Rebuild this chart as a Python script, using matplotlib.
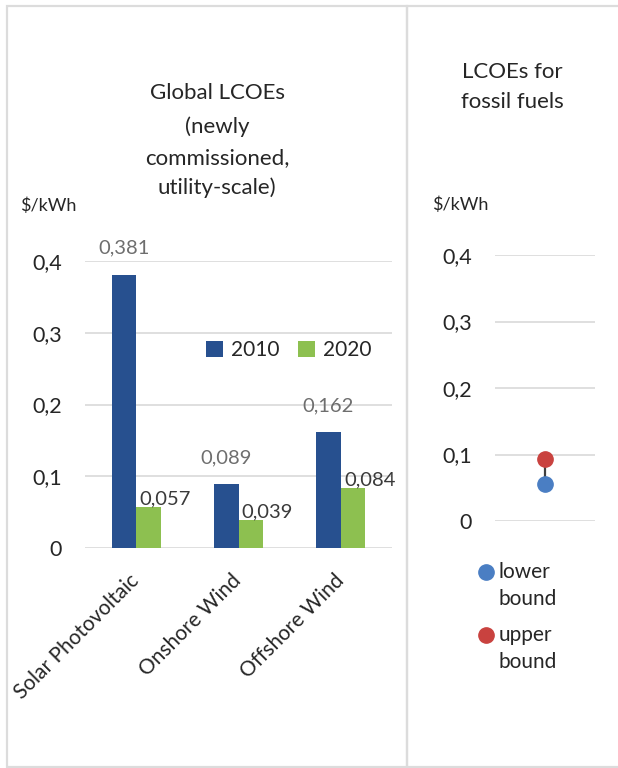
import matplotlib
matplotlib.use("Agg")
import matplotlib.pyplot as plt
from matplotlib.patches import Rectangle
from matplotlib.lines import Line2D
import numpy as np

plt.rcParams['font.family'] = ['Lato', 'DejaVu Sans']

categories = ["Solar Photovoltaic", "Onshore Wind", "Offshore Wind"]
lcoe_2010 = [0.381, 0.089, 0.162]
lcoe_2020 = [0.057, 0.039, 0.084]
series_names = ["2010", "2020"]
fossil_lower = 0.055
fossil_upper = 0.093
yticks = [0, 0.1, 0.2, 0.3, 0.4]
ytick_labels = ["0", "0,1", "0,2", "0,3", "0,4"]

def fmt(v):
    return f"{v:.3f}".replace(".", ",")

W, H = 618, 768
fig = plt.figure(figsize=(W/100, H/100), dpi=100)

TXT = "#262626"
GRID = "#d9d9d9"
C2010 = "#27508F"
C2020 = "#8DC050"
CLOW = "#4A7EC3"
CUP = "#C9423F"

def fx(px):
    return px / W

def fy(py):
    return 1 - py / H

# panel frames
fig.patches.append(Rectangle((fx(7), fy(767)), fx(407) - fx(7), fy(6) - fy(767),
                             transform=fig.transFigure, fill=False,
                             edgecolor="#dcdcdc", linewidth=1.6))
fig.patches.append(Rectangle((fx(407), fy(767)), fx(630) - fx(407), fy(6) - fy(767),
                             transform=fig.transFigure, fill=False,
                             edgecolor="#dcdcdc", linewidth=1.6))

# ---- left panel ----
ax = fig.add_axes([fx(85), fy(548), fx(392) - fx(85), fy(261) - fy(548)])
x = np.arange(len(categories))
w = 0.24
ax.bar(x - w/2, lcoe_2010, w, color=C2010, label=series_names[0], zorder=3)
ax.bar(x + w/2, lcoe_2020, w, color=C2020, label=series_names[1], zorder=3)
ax.set_xlim(-0.5, 2.5)
ax.set_ylim(0, 0.4)
ax.set_yticks(yticks)
ax.set_yticklabels(ytick_labels)
ax.yaxis.grid(True, color=GRID, linewidth=1.2, zorder=0)
ax.set_axisbelow(True)
for s in ax.spines.values():
    s.set_visible(False)
ax.tick_params(axis='y', length=0, pad=16.5, labelsize=15.5, labelcolor=TXT)
ax.set_xticks(x)
ax.set_xticklabels(categories, rotation=45, ha='right', va='center',
                   rotation_mode='anchor', fontsize=15, color=TXT)
ax.tick_params(axis='x', length=0, pad=21)
for xi, v in zip(x - w/2, lcoe_2010):
    ax.annotate(fmt(v), (xi, v), xytext=(0, 19), textcoords='offset points',
                ha='center', va='center', fontsize=14.5, color="#6e6e6e")
for xi, v in zip(x + w/2, lcoe_2020):
    ax.annotate(fmt(v), (xi, v), xytext=(12, 6), textcoords='offset points',
                ha='center', va='center', fontsize=14.5, color="#3a3a3a")

ax.legend(loc='center', bbox_to_anchor=((289 - 85) / 307, (548 - 350) / 287),
          ncol=2, frameon=False, fontsize=15, handlelength=0.8, handleheight=0.8,
          handletextpad=0.4, columnspacing=0.9, labelcolor=TXT)

fig.text(fx(217), fy(93), "Global LCOEs", ha='center', va='center', fontsize=16, color=TXT)
fig.text(fx(217), fy(127), "(newly", ha='center', va='center', fontsize=16, color=TXT)
fig.text(fx(217), fy(158), "commissioned,", ha='center', va='center', fontsize=16, color=TXT)
fig.text(fx(217), fy(188), "utility-scale)", ha='center', va='center', fontsize=16, color=TXT)
fig.text(fx(20), fy(206), "$/kWh", ha='left', va='center', fontsize=13, color=TXT)

# ---- right panel ----
ax2 = fig.add_axes([fx(495), fy(521), fx(595) - fx(495), fy(255) - fy(521)])
ax2.set_xlim(-0.5, 0.5)
ax2.set_ylim(0, 0.4)
ax2.set_yticks(yticks)
ax2.set_yticklabels(ytick_labels)
ax2.set_xticks([])
ax2.yaxis.grid(True, color=GRID, linewidth=1.2, zorder=0)
ax2.set_axisbelow(True)
for s in ax2.spines.values():
    s.set_visible(False)
ax2.tick_params(axis='y', length=0, pad=16.5, labelsize=15.5, labelcolor=TXT)
ax2.plot([0, 0], [fossil_lower, fossil_upper], color="#404040", linewidth=1.6, zorder=3)
ax2.plot([0], [fossil_lower], 'o', color=CLOW, markersize=11, zorder=4)
ax2.plot([0], [fossil_upper], 'o', color=CUP, markersize=11, zorder=4)

fig.text(fx(512), fy(72), "LCOEs for", ha='center', va='center', fontsize=16, color=TXT)
fig.text(fx(512), fy(102), "fossil fuels", ha='center', va='center', fontsize=16, color=TXT)
fig.text(fx(432), fy(205), "$/kWh", ha='left', va='center', fontsize=13, color=TXT)

# right legend
fig.add_artist(Line2D([fx(486)], [fy(572)], marker='o', color=CLOW, markersize=11,
                      linestyle='none', transform=fig.transFigure))
fig.add_artist(Line2D([fx(486)], [fy(635)], marker='o', color=CUP, markersize=11,
                      linestyle='none', transform=fig.transFigure))
fig.text(fx(499), fy(572), "lower", ha='left', va='center', fontsize=15, color=TXT)
fig.text(fx(499), fy(599), "bound", ha='left', va='center', fontsize=15, color=TXT)
fig.text(fx(499), fy(635), "upper", ha='left', va='center', fontsize=15, color=TXT)
fig.text(fx(499), fy(662), "bound", ha='left', va='center', fontsize=15, color=TXT)

fig.savefig("out.png", dpi=100)
